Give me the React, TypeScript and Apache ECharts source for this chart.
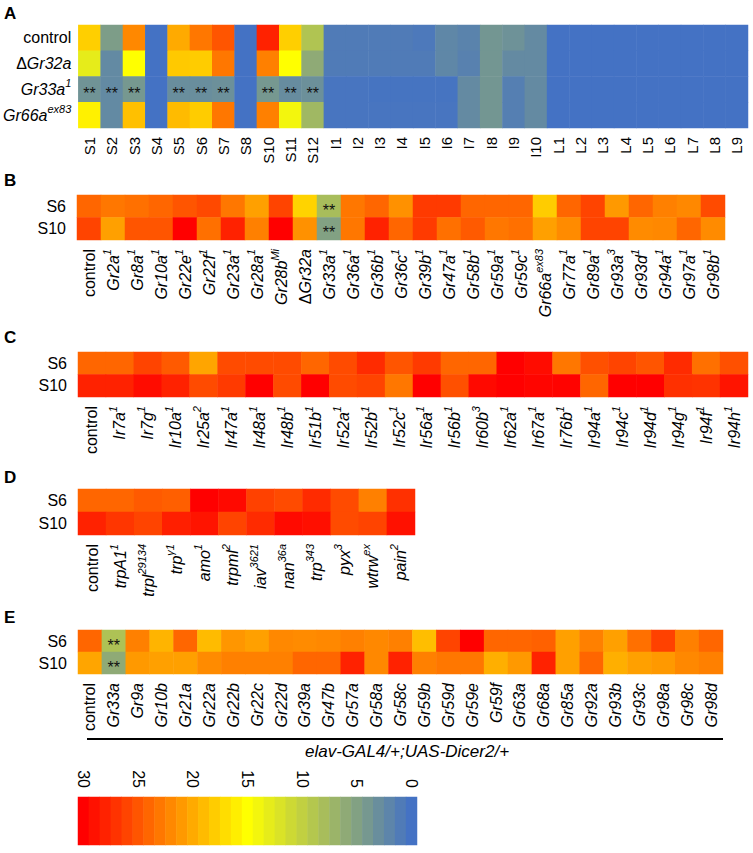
import React, { useEffect, useRef } from 'react';
import * as echarts from 'echarts';

const FONT = '"Liberation Sans", Arial, Helvetica, sans-serif';

// ---------- Panel A ----------
const aColumns = ['S1', 'S2', 'S3', 'S4', 'S5', 'S6', 'S7', 'S8', 'S10', 'S11', 'S12',
  'I1', 'I2', 'I3', 'I4', 'I5', 'I6', 'I7', 'I8', 'I9', 'I10',
  'L1', 'L2', 'L3', 'L4', 'L5', 'L6', 'L7', 'L8', 'L9'];
const aRows = ['control', 'ΔGr32a', 'Gr33a^1', 'Gr66a^ex83'];
const aControl = [17.8, 4.6, 22, 0, 20, 23, 25, 0, 28, 17.8, 8.7, 1, 1, 1, 1, 0.7, 2.2, 1.8, 3.8, 3.4, 2.6, 0, 0, 0, 0, 0, 0, 0, 0, 0];
const aDGr32a = [13, 2.5, 15, 0, 18.2, 18, 23, 0, 22.5, 15, 6, 1, 1, 1, 1, 1, 2.2, 1.6, 3.8, 2.6, 2.6, 0, 0, 0, 0, 0, 0, 0, 0, 0];
const aGr33a = [3.5, 2.5, 4, 0, 3, 3, 3.2, 0, 4, 2.8, 3.2, 0.3, 0.3, 0.2, 0.2, 0.2, 0.2, 2.6, 3.8, 1.4, 2.6, 0, 0, 0, 0, 0, 0, 0, 0, 0];
const aGr66a = [15.8, 2.5, 18.7, 0, 19, 18, 23, 0, 22.5, 14, 7.4, 0.3, 0.3, 0.3, 0.3, 0.3, 0.3, 2.6, 3.8, 1.4, 2.6, 0, 0, 0, 0, 0, 0, 0, 0, 0];
const aSigRow = 'Gr33a^1';
const aSigCols = ['S1', 'S2', 'S3', 'S5', 'S6', 'S7', 'S10', 'S11', 'S12'];

// ---------- Panel B ----------
const stimRows = ['S6', 'S10'];
const bColumns = ['control', 'Gr2a^1', 'Gr8a^1', 'Gr10a^1', 'Gr22e^1', 'Gr22f^1', 'Gr23a^1', 'Gr28a^1', 'Gr28b^Mi',
  'ΔGr32a', 'Gr33a^1', 'Gr36a^1', 'Gr36b^1', 'Gr36c^1', 'Gr39b^1', 'Gr47a^1', 'Gr58b^1', 'Gr59a^1', 'Gr59c^1',
  'Gr66a^ex83', 'Gr77a^1', 'Gr89a^1', 'Gr93a^3', 'Gr93d^1', 'Gr94a^1', 'Gr97a^1', 'Gr98b^1'];
const bS6 = [24, 23, 23.4, 24, 25, 25.7, 23, 20.6, 26, 17.6, 8, 23, 24, 21.5, 26.6, 26.6, 24, 24, 24, 18, 24, 26, 21, 24, 22.5, 22, 25.6];
const bS10 = [26, 20.6, 25, 25, 30, 23.4, 28, 22.5, 30, 21.5, 5, 23, 28, 24, 26.6, 23.4, 24.7, 23, 23.4, 20.6, 21.8, 26, 26, 21.8, 22, 24, 21.8];
const bSigCol = 'Gr33a^1';

// ---------- Panel C ----------
const cColumns = ['control', 'Ir7a^1', 'Ir7g^1', 'Ir10a^1', 'Ir25a^2', 'Ir47a^1', 'Ir48a^1', 'Ir48b^1', 'Ir51b^1',
  'Ir52a^1', 'Ir52b^1', 'Ir52c^1', 'Ir56a^1', 'Ir56b^1', 'Ir60b^3', 'Ir62a^1', 'Ir67a^1', 'Ir76b^1', 'Ir94a^1',
  'Ir94c^1', 'Ir94d^1', 'Ir94g^1', 'Ir94f^1', 'Ir94h^1'];
const cS6 = [24, 24, 26, 24.7, 20.3, 25.6, 25.6, 25.6, 24, 25.6, 27.5, 25, 26.6, 24, 24, 30, 29.3, 23, 25.3, 26, 25, 27.5, 23.4, 25.3];
const cS10 = [28, 28, 29.3, 28, 25.6, 26.6, 30, 25.6, 30, 25.6, 26, 23, 30, 25.3, 29.5, 30, 29.7, 29.8, 24, 30, 30, 27.2, 27, 28.8];

// ---------- Panel D ----------
const dColumns = ['control', 'trpA1^1', 'trpl^29134', 'trp^γ1', 'amo^1', 'trpml^2', 'iav^3621', 'nan^36a', 'trp^343',
  'pyx^3', 'wtrw^ex', 'pain^2'];
const dS6 = [24, 24, 24.7, 24.4, 30, 29.5, 26.2, 25.6, 27.5, 25.6, 22.5, 27.2];
const dS10 = [28, 26.8, 26, 28.2, 28.8, 26, 27.5, 29.4, 29.1, 25.6, 26, 29];

// ---------- Panel E ----------
const eColumns = ['control', 'Gr33a', 'Gr9a', 'Gr10b', 'Gr21a', 'Gr22a', 'Gr22b', 'Gr22c', 'Gr22d', 'Gr39a', 'Gr47b',
  'Gr57a', 'Gr58a', 'Gr58c', 'Gr59b', 'Gr59d', 'Gr59e', 'Gr59f', 'Gr63a', 'Gr68a', 'Gr85a', 'Gr92a', 'Gr93b',
  'Gr93c', 'Gr98a', 'Gr98c', 'Gr98d'];
const eS6 = [24, 8.5, 22.5, 19.4, 24, 19, 21.2, 20.6, 22, 21.8, 22, 22.5, 22, 22.5, 18.8, 26, 30, 24, 24, 24.3, 20.6, 22.5, 20.6, 23.4, 26.2, 22.5, 24];
const eS10 = [20.3, 6, 21, 20.6, 20.6, 21.8, 22.5, 22.5, 22.5, 24, 24, 28, 22, 28, 22.5, 23, 23, 19.7, 21, 28, 20.6, 24, 19.7, 20.6, 21, 22, 22.5];
const eSigCol = 'Gr33a';
const eDriver = 'elav-GAL4/+;UAS-Dicer2/+';

// ---------- Colour bar ----------
const colorbarSteps = [30, 29, 28, 27, 26, 25, 24, 23, 22, 21, 20, 19, 18, 17, 16, 15, 14, 13, 12, 11, 10, 9, 8, 7, 6, 5, 4, 3, 2, 1, 0];
const colorbarTicks = [30, 25, 20, 15, 10, 5, 0];
const scaleColors = ['#4472C4', '#FFFF00', '#FF0000'];

function fmt(s: string, italic = true): string {
  if (!italic || s === 'control') return `{n|${s}}`;
  let [base, sup] = s.split('^');
  let out = '';
  if (base.startsWith('Δ')) {
    out += '{n|Δ}';
    base = base.slice(1);
  }
  out += `{i|${base}}`;
  if (sup) out += `{s|${sup}}`;
  return out;
}

function rich(size: number) {
  return {
    n: { fontSize: size, fontFamily: FONT, color: '#000', lineHeight: 24 },
    i: { fontSize: size, fontFamily: FONT, fontStyle: 'italic', color: '#000', lineHeight: 24 },
    s: { fontSize: 11, fontFamily: FONT, fontStyle: 'italic', color: '#000', lineHeight: 14, verticalAlign: 'top' },
  };
}

function cells(cols: string[], rows: string[], values: number[][], sig: [string, string][]) {
  const out: any[] = [];
  rows.forEach((r, ri) => {
    cols.forEach((c, ci) => {
      const isSig = sig.some(([sc, sr]) => sc === c && sr === r);
      out.push({ value: [ci, ri, values[ri][ci]], label: { show: isSig } });
    });
  });
  return out;
}

export default function App() {
  const ref = useRef<HTMLDivElement>(null);

  useEffect(() => {
    if (!ref.current) return;
    const chart = echarts.init(ref.current, undefined, { renderer: 'svg' });

    const grids = [
      { left: 78, top: 25, width: 670, height: 103 },
      { left: 77, top: 195, width: 648, height: 45 },
      { left: 78, top: 352, width: 670, height: 45 },
      { left: 78, top: 489, width: 337, height: 46 },
      { left: 78, top: 630, width: 645, height: 44 },
      { left: 78, top: 797, width: 339, height: 48 },
    ];

    const panels = [
      { cols: aColumns, rows: aRows, vals: [aControl, aDGr32a, aGr33a, aGr66a],
        sig: aSigCols.map((c) => [c, aSigRow] as [string, string]), colItalic: false, colSize: 15, rowMargin: 7 },
      { cols: bColumns, rows: stimRows, vals: [bS6, bS10],
        sig: stimRows.map((r) => [bSigCol, r] as [string, string]), colItalic: true, colSize: 16, rowMargin: 11 },
      { cols: cColumns, rows: stimRows, vals: [cS6, cS10], sig: [] as [string, string][], colItalic: true, colSize: 16, rowMargin: 11 },
      { cols: dColumns, rows: stimRows, vals: [dS6, dS10], sig: [] as [string, string][], colItalic: true, colSize: 16, rowMargin: 11 },
      { cols: eColumns, rows: stimRows, vals: [eS6, eS10],
        sig: stimRows.map((r) => [eSigCol, r] as [string, string]), colItalic: true, colSize: 16, rowMargin: 11 },
    ];

    const xAxes: any[] = [];
    const yAxes: any[] = [];
    const series: any[] = [];

    panels.forEach((p, gi) => {
      xAxes.push({
        type: 'category', gridIndex: gi, data: p.cols,
        axisLine: { show: false }, axisTick: { show: false }, splitLine: { show: false },
        axisLabel: {
          interval: 0, rotate: 90, margin: 9, fontSize: p.colSize, fontFamily: FONT, color: '#000',
          formatter: (v: string) => fmt(v, p.colItalic), rich: rich(p.colSize),
        },
      });
      yAxes.push({
        type: 'category', gridIndex: gi, data: p.rows, inverse: true,
        axisLine: { show: false }, axisTick: { show: false }, splitLine: { show: false },
        axisLabel: {
          interval: 0, margin: p.rowMargin, fontSize: 16, fontFamily: FONT, color: '#000',
          formatter: (v: string) => fmt(v, gi === 0), rich: rich(16),
        },
      });
      series.push({
        type: 'heatmap', xAxisIndex: gi, yAxisIndex: gi,
        data: cells(p.cols, p.rows, p.vals, p.sig),
        itemStyle: { borderWidth: 0 },
        label: { show: false, formatter: '**', color: '#111', fontSize: 16, fontFamily: FONT, offset: [0, 4] },
        emphasis: { disabled: true },
      });
    });

    // colour bar
    xAxes.push({
      type: 'category', gridIndex: 5, position: 'top', data: colorbarSteps.map(String),
      axisLine: { show: false }, axisTick: { show: false }, splitLine: { show: false },
      axisLabel: {
        interval: (i: number) => colorbarTicks.includes(colorbarSteps[i]),
        rotate: 90, margin: 9, fontSize: 16, fontFamily: FONT, color: '#000',
      },
    });
    yAxes.push({ type: 'category', gridIndex: 5, data: ['scale'], show: false });
    series.push({
      type: 'heatmap', xAxisIndex: 5, yAxisIndex: 5,
      data: colorbarSteps.map((v, i) => [i, 0, v]),
      emphasis: { disabled: true },
    });

    const letters = [
      { t: 'A', y: 5 }, { t: 'B', y: 172 }, { t: 'C', y: 329 }, { t: 'D', y: 469 }, { t: 'E', y: 609 },
    ];

    chart.setOption({
      animation: false,
      backgroundColor: '#fff',
      grid: grids,
      xAxis: xAxes,
      yAxis: yAxes,
      visualMap: {
        type: 'continuous', show: false, min: 0, max: 30,
        seriesIndex: series.map((_, i) => i),
        inRange: { color: scaleColors },
      },
      series,
      graphic: [
        ...letters.map((l) => ({
          type: 'text', left: 4, top: l.y,
          style: { text: l.t, font: `bold 17px ${FONT}`, fill: '#000' },
        })),
        {
          type: 'line', shape: { x1: 87, y1: 739, x2: 723, y2: 739 },
          style: { stroke: '#000', lineWidth: 2 },
        },
        {
          type: 'text', x: 305, y: 751,
          style: { text: eDriver, font: `italic 17px ${FONT}`, fill: '#000', align: 'left', verticalAlign: 'middle' },
        },
      ],
    });

    return () => chart.dispose();
  }, []);

  return (
    <div
      ref={ref}
      style={{ position: 'fixed', left: 0, top: 0, width: 753, height: 853, background: '#fff' }}
    />
  );
}
